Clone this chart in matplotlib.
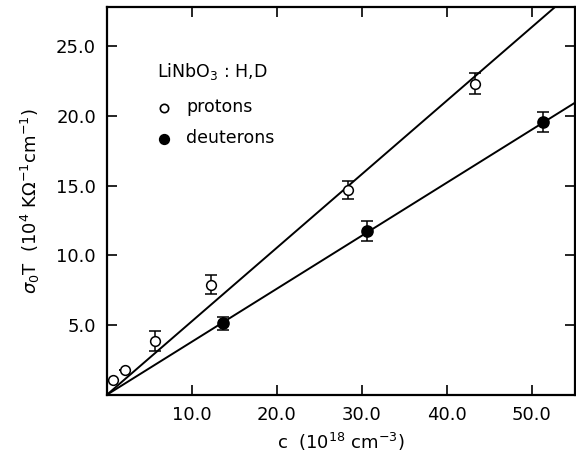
import matplotlib
matplotlib.use("Agg")
import matplotlib.pyplot as plt
import numpy as np

plt.rcParams['font.family'] = ['DejaVu Sans']
plt.rcParams['mathtext.fontset'] = 'dejavusans'

# Data
proton_c = [0.7, 2.1, 5.7, 12.3, 28.4, 43.3]
proton_s = [1.05, 1.77, 3.85, 7.9, 14.65, 22.3]
proton_err = [0.0, 0.0, 0.7, 0.7, 0.65, 0.75]

deut_c = [13.7, 30.6, 51.3]
deut_s = [5.12, 11.75, 19.55]
deut_err = [0.45, 0.7, 0.7]

proton_slope = 0.527
deut_slope = 0.38

xticks = [10.0, 20.0, 30.0, 40.0, 50.0]
yticks = [5.0, 10.0, 15.0, 20.0, 25.0]

fig = plt.figure(figsize=(5.76, 4.55), dpi=100)
ax = fig.add_axes([107/576, 1-394.7/455, (575-107)/576, (394.7-7)/455])

xlim = (0, 55.1)
ylim = (0, 27.8)
xf = np.array([0, xlim[1]])
ax.plot(xf, proton_slope*xf, color='black', lw=1.4)
ax.plot(xf, deut_slope*xf, color='black', lw=1.4)

ax.errorbar(proton_c, proton_s, yerr=proton_err, fmt='o', mfc='white', mec='black',
            ecolor='black', ms=7, mew=1.1, capsize=4, elinewidth=1.1, capthick=1.1, zorder=3)
ax.errorbar(deut_c, deut_s, yerr=deut_err, fmt='o', mfc='black', mec='black',
            ecolor='black', ms=8, mew=1.1, capsize=4, elinewidth=1.1, capthick=1.1, zorder=3)

ax.set_xlim(*xlim)
ax.set_ylim(*ylim)
ax.set_xticks(xticks)
ax.set_yticks(yticks)
ax.set_xticklabels([f"{v:.1f}" for v in xticks])
ax.set_yticklabels([f"{v:.1f}" for v in yticks])
ax.tick_params(direction='in', length=7, width=1.2, labelsize=13, top=True, right=True, pad=8)
for s in ax.spines.values():
    s.set_linewidth(1.6)

ax.set_xlabel(r"c  (10$^{18}$ cm$^{-3}$)", fontsize=13, labelpad=5)
ax.set_ylabel(r"$\sigma_0$T  (10$^4$ K$\Omega^{-1}$cm$^{-1}$)", fontsize=13, labelpad=10)

ax.text(157/576, 1-72/455, r"LiNbO$_3$ : H,D", transform=fig.transFigure, fontsize=12.5,
        va='center', ha='left')
ax.plot([164/576], [1-108/455], 'o', mfc='white', mec='black', ms=6, mew=1.2,
        transform=fig.transFigure, clip_on=False)
ax.plot([164/576], [1-139/455], 'o', mfc='black', mec='black', ms=7, mew=1.1,
        transform=fig.transFigure, clip_on=False)
ax.text(186/576, 1-107/455, "protons", transform=fig.transFigure, fontsize=12.5, va='center')
ax.text(186/576, 1-138/455, "deuterons", transform=fig.transFigure, fontsize=12.5, va='center')

fig.savefig("out.png", dpi=100)
